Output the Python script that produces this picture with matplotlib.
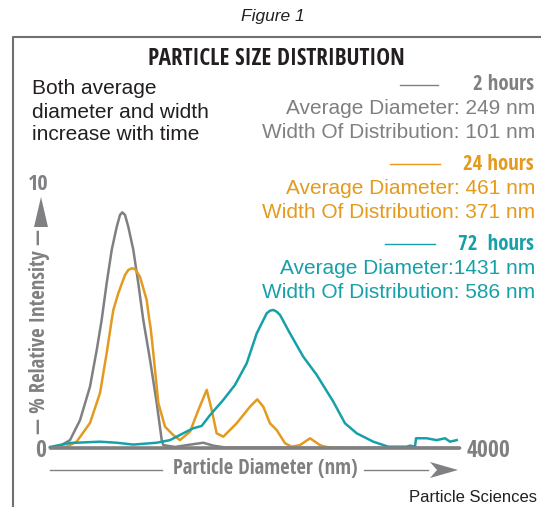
"""
Particle size distribution chart (Figure 1)
"""
import numpy as np
import matplotlib
matplotlib.use("Agg")
import matplotlib.pyplot as plt
from matplotlib import font_manager as fm
from matplotlib.patches import Polygon

# ----------------------------------------------------------------------------
# Data (diameter in nm, % relative intensity)
# ----------------------------------------------------------------------------

x_2h = [0, 98, 195, 293, 390, 456, 504, 553, 602, 651, 683, 705, 732, 764,
        813, 861, 910, 976, 1041, 1090, 1105, 1220, 1334, 1496, 1593, 1707,
        4000]
y_2h = [0, 0.08, 0.30, 1.06, 2.33, 3.73, 4.87, 6.27, 7.53, 8.41, 8.86, 8.96,
        8.86, 8.41, 7.53, 6.27, 4.87, 3.35, 1.71, 0.30, 0.11, 0.04, 0.11,
        0.20, 0.09, 0.02, 0]

x_24h = [0, 163, 260, 390, 488, 553, 602, 618, 666, 732, 764, 797, 829, 878,
         943, 969, 982, 1008, 1057, 1122, 1203, 1268, 1366, 1447, 1529, 1578,
         1626, 1691, 1821, 1951, 2022, 2081, 2146, 2212, 2293, 2358, 2439,
         2537, 2634, 2683, 2780]
y_24h = [0, 0.05, 0.24, 0.95, 2.09, 3.61, 4.87, 5.25, 5.88, 6.58, 6.77, 6.83,
         6.81, 6.51, 5.63, 4.87, 4.56, 3.61, 1.71, 0.81, 0.49, 0.30, 0.62,
         1.44, 2.21, 1.44, 0.56, 0.43, 0.94, 1.57, 1.85, 1.57, 0.94, 0.68,
         0.18, 0.05, 0.11, 0.37, 0.11, 0.05, 0]

x_72h = [0, 195, 488, 651, 813, 1041, 1171, 1300, 1398, 1480, 1561, 1691,
         1805, 1919, 2017, 2114, 2146, 2179, 2212, 2244, 2341, 2471, 2602,
         2764, 2878, 2992, 3154, 3300, 3480, 3512, 3561, 3571, 3675, 3773,
         3854, 3902, 3968]
y_72h = [0.04, 0.19, 0.24, 0.20, 0.13, 0.20, 0.30, 0.56, 0.75, 0.84, 1.25,
         1.83, 2.40, 3.22, 4.36, 5.12, 5.22, 5.25, 5.18, 5.06, 4.36, 3.47,
         2.78, 1.76, 0.94, 0.56, 0.24, 0.05, 0.05, 0.09, 0.05, 0.37, 0.37,
         0.30, 0.37, 0.24, 0.30]

series_names = ["2 hours", "24 hours", "72  hours"]
avg_diam = ["Average Diameter: 249 nm", "Average Diameter: 461 nm",
            "Average Diameter:1431 nm"]
width_dist = ["Width Of Distribution: 101 nm", "Width Of Distribution: 371 nm",
              "Width Of Distribution: 586 nm"]
note_lines = ["Both average", "diameter and width", "increase with time"]

x_max = 4000
y_max = 10

GRAY = "#808083"
ORANGE = "#E39A1E"
TEAL = "#17A0A8"
DARK = "#231F20"
colors = [GRAY, ORANGE, TEAL]

REGULAR = ["Liberation Sans", "DejaVu Sans"]

W, H = 541, 507
fig = plt.figure(figsize=(W / 100, H / 100), dpi=100)
renderer = fig.canvas.get_renderer()

# ----------------------------------------------------------------------------
# The headings use a condensed bold face: take the narrowest bold sans
# among the usual families (measured, so it works whatever is installed)
# ----------------------------------------------------------------------------

SANS = ("DejaVu Sans", "Liberation Sans", "Noto Sans", "Roboto",
        "Open Sans", "Lato", "Inter")


def weight_value(w):
    if isinstance(w, str):
        return fm.weight_dict.get(w, 400)
    return int(w)


probe = "PARTICLE SIZE DISTRIBUTION"
best_file, best_ratio = None, None
for f in fm.fontManager.ttflist:
    name = f.name
    if not name.startswith(SANS):
        continue
    if any(b in name for b in ("Mono", "Display", "CJK", "Symbols")):
        continue
    if weight_value(f.weight) < 600 or f.style != "normal":
        continue
    try:
        prop = fm.FontProperties(fname=f.fname, size=18)
        w, h, d = renderer.get_text_width_height_descent(probe, prop, False)
    except Exception:
        continue
    if h - d <= 0:
        continue
    ratio = w / (h - d)
    if best_ratio is None or ratio < best_ratio:
        best_file, best_ratio = f.fname, ratio


def narrow_prop(size):
    if best_file is None:
        return fm.FontProperties(family="DejaVu Sans", weight="bold",
                                 size=size)
    return fm.FontProperties(fname=best_file, size=size)


def px(x, y):
    # pixel position (from top-left) to figure fraction
    return x / W, 1 - y / H


def ftext(x, y, s, **kw):
    fx, fy = px(x, y)
    return fig.text(fx, fy, s, **kw)


def bold_text(x, y, s, size=14, **kw):
    return ftext(x, y, s, fontproperties=narrow_prop(size), **kw)


def fit_width(t, target, max_size=None, vertical=False):
    # scale the font size so the text covers the given pixel length
    bb = t.get_window_extent(renderer)
    length = bb.height if vertical else bb.width
    size = t.get_fontsize() * target / length
    if max_size is not None:
        size = min(size, max_size)
    t.set_fontsize(size)
    return size


# frame (left and top edges only are visible)
fig.add_artist(plt.Line2D([13 / W, 13 / W, 1], [0, 1 - 37 / H, 1 - 37 / H],
                          color="#707070", lw=1.5))

ftext(273, 16, "Figure 1", ha="center", va="center", fontsize=12.5,
      style="italic", color=DARK, family=REGULAR)
title = bold_text(276, 59, "PARTICLE SIZE DISTRIBUTION", size=18,
                  ha="center", va="center", color=DARK)
fit_width(title, 258, max_size=19)

for i, line in enumerate(note_lines):
    ftext(32, 89 + 23 * i, line, ha="left", va="center", fontsize=15,
          color=DARK, family=REGULAR)

# legend blocks on the right
head_y = [85, 164, 244]
line_x = [(400, 438), (390, 440), (385, 435)]
head = []
for i in range(3):
    y0 = head_y[i]
    head.append(bold_text(534, y0, series_names[i], size=14, ha="right",
                          va="center", color=colors[i]))
    x1, x2 = line_x[i]
    fig.add_artist(plt.Line2D([x1 / W, x2 / W], [1 - y0 / H, 1 - y0 / H],
                              color=colors[i], lw=1))
    ftext(535, y0 + 24, avg_diam[i], ha="right", va="center", fontsize=15,
          color=colors[i], family=REGULAR)
    ftext(535, y0 + 48, width_dist[i], ha="right", va="center",
          fontsize=15, color=colors[i], family=REGULAR)
head_size = fit_width(head[1], 73, max_size=15)
for t in head:
    t.set_fontsize(head_size)

# plotting area
ax = fig.add_axes([50 / W, (H - 448) / H, 410 / W, (448 - 185) / H])
ax.set_xlim(0, x_max)
ax.set_ylim(0, y_max)
ax.axis("off")

ax.plot(x_2h, y_2h, color=GRAY, lw=1.8, clip_on=False,
        solid_joinstyle="round")
ax.plot(x_24h, y_24h, color=ORANGE, lw=1.8, clip_on=False,
        solid_joinstyle="round")
ax.plot(x_72h, y_72h, color=TEAL, lw=1.8, clip_on=False,
        solid_joinstyle="round")
ax.plot([0, x_max], [0, 0], color=GRAY, lw=2.6, clip_on=False,
        solid_capstyle="butt")

# axis annotations
t4000 = bold_text(467, 451, "4000", size=15, ha="left", va="center",
                  color=GRAY)
end_size = fit_width(t4000, 46, max_size=17)
bold_text(41, 451, "0", size=end_size, ha="center", va="center",
          color=GRAY)
t10 = bold_text(38.5, 185, "10", size=14, ha="center", va="center",
                color=GRAY)
fit_width(t10, 21, max_size=16)

ylab = bold_text(40, 331, "— % Relative Intensity —", size=13.5,
                 ha="center", va="center", rotation=90, color=GRAY)
fit_width(ylab, 204, max_size=15, vertical=True)
tri_y = [(34, 227), (48, 227), (41, 197)]
fig.add_artist(Polygon([px(a, b) for a, b in tri_y], closed=True,
                       transform=fig.transFigure, color=GRAY, lw=0))

xlab = bold_text(265, 469, "Particle Diameter (nm)", size=13.5,
                 ha="center", va="center", color=GRAY)
fit_width(xlab, 184, max_size=15)
fig.add_artist(plt.Line2D([50 / W, 162 / W], [1 - 470 / H] * 2,
                          color=GRAY, lw=1))
fig.add_artist(plt.Line2D([364 / W, 428 / W], [1 - 470 / H] * 2,
                          color=GRAY, lw=1))
tri_x = [(430, 462), (458, 470), (430, 478), (437, 470)]
fig.add_artist(Polygon([px(a, b) for a, b in tri_x], closed=True,
                       transform=fig.transFigure, color=GRAY, lw=0))

ftext(537, 497, "Particle Sciences", ha="right", va="center", fontsize=12,
      color=DARK, family=REGULAR)

fig.savefig("out.png", dpi=100)
